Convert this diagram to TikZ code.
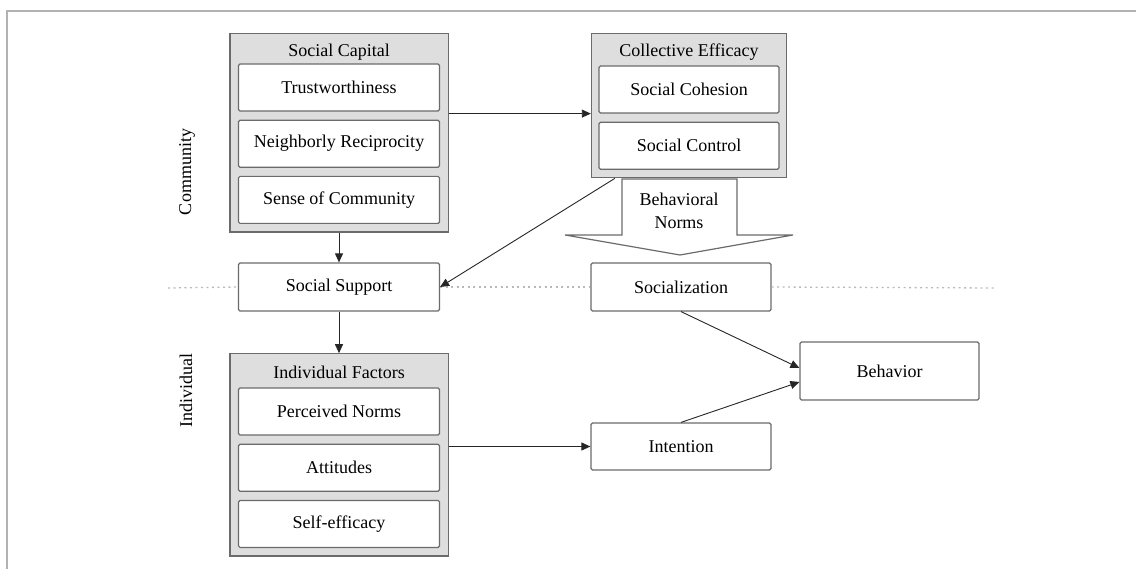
\documentclass[tikz,border=0pt]{standalone}
\usepackage{fontspec}
\setmainfont{Liberation Serif}
\newfontfamily\boxfont{Liberation Serif}
\definecolor{boxline}{rgb}{.42,.42,.42}
\definecolor{groupfill}{rgb}{.87,.87,.87}
\usetikzlibrary{arrows.meta,positioning,fit,backgrounds}

\begin{document}
\begin{tikzpicture}[x=1pt, y=-1pt,
            item/.style={draw=boxline, fill=white, line width=1.2pt, rounded corners=1.5pt,
                        minimum width=201pt, minimum height=47pt, inner sep=0pt,
                        font=\boxfont\fontsize{18}{23}\selectfont, align=center},
            title/.style={minimum height=20pt, inner sep=0pt, font=\boxfont\fontsize{18}{23}\selectfont},
            group/.style={draw=boxline, fill=groupfill, line width=1.2pt, inner sep=8pt},
            arr/.style={-{Triangle[length=9pt,width=8pt]}, black!85, line width=0.9pt},
            divider/.style={gray!55, line width=1.3pt, dash pattern=on 2pt off 3.5pt},
            side/.style={rotate=90, font=\boxfont\fontsize{18}{23}\selectfont}
          ]
            \useasboundingbox (0,0) rectangle (1136,569);
            \draw[gray!60, line width=1.5pt] (7,580) -- (7,11) -- (1150,11);

            % community level
            \node[title] (sct)   at (339,52)   {Social Capital};
            \node[item]  (trust) at (339,87.5) {Trustworthiness};
            \node[item]  (neigh) [below=8pt of trust] {Neighborly Reciprocity};
            \node[item]  (sense) [below=8pt of neigh] {Sense of Community};
            \node[title] (cet)   at (689,52)   {Collective Efficacy};
            \node[item, minimum width=180pt] (coh)  at (689,89.5) {Social Cohesion};
            \node[item, minimum width=180pt] (ctrl) [below=8pt of coh] {Social Control};
            \begin{scope}[on background layer]
              \node[group, fit=(sct)(trust)(sense)] (sc) {};
              \node[group, inner xsep=7pt, fit=(cet)(coh)(ctrl)] (ce) {};
            \end{scope}

            % behavioral norms block arrow
            \draw[boxline, fill=white, line width=1.2pt]
              (622,179) -- (737,179) -- (737,235) -- (793,235) -- (680,255)
              -- (565,235) -- (622,235) -- cycle;
            \node (norms) at (679,211) [align=center, font=\boxfont\fontsize{18}{23}\selectfont] {Behavioral\\Norms};

            % middle row
            \node[item, minimum height=48pt] (ss)  at (339,287) {Social Support};
            \node[item, minimum height=48pt, minimum width=180pt] (soc) at (681,287) {Socialization};
            \coordinate (dl) at (168,288);
            \coordinate (dr) at (995,288);
            \draw[divider] (dl) -- (ss.west);
            \draw[divider] (ss.east) -- (soc.west);
            \draw[divider] (soc.east) -- (dr);

            % individual level
            \node[title] (ift)  at (339,372)   {Individual Factors};
            \node[item]  (perc) at (339,411.5) {Perceived Norms};
            \node[item]  (att)  [below=8pt of perc] {Attitudes};
            \node[item]  (self) [below=8pt of att]  {Self-efficacy};
            \begin{scope}[on background layer]
              \node[group, fit=(ift)(perc)(self)] (if) {};
            \end{scope}
            \node[item, minimum width=180pt] (int) at (681,446.5) {Intention};
            \node[item, minimum width=179pt, minimum height=58pt] (beh) at (889.5,371) {Behavior};

            \node[side] (comm)  at (187,172) {Community};
            \node[side] (indiv) at (186,391) {Individual};

            \draw[arr] (sc.east |- coh.south) -- (ce.west |- coh.south);
            \draw[arr] (sc.south) -- (sc.south |- ss.north);
            \draw[arr] ([xshift=24pt]ce.south west) -- (ss.east);
            \draw[arr] (ss.south) -- (ss.south |- if.north);
            \draw[arr] (if.east |- int.west) -- (int.west);
            \draw[arr] (soc.south) -- ([yshift=3pt]beh.west);
            \draw[arr] (int.north) -- ([yshift=-11pt]beh.west);
          \end{tikzpicture}
\end{document}
